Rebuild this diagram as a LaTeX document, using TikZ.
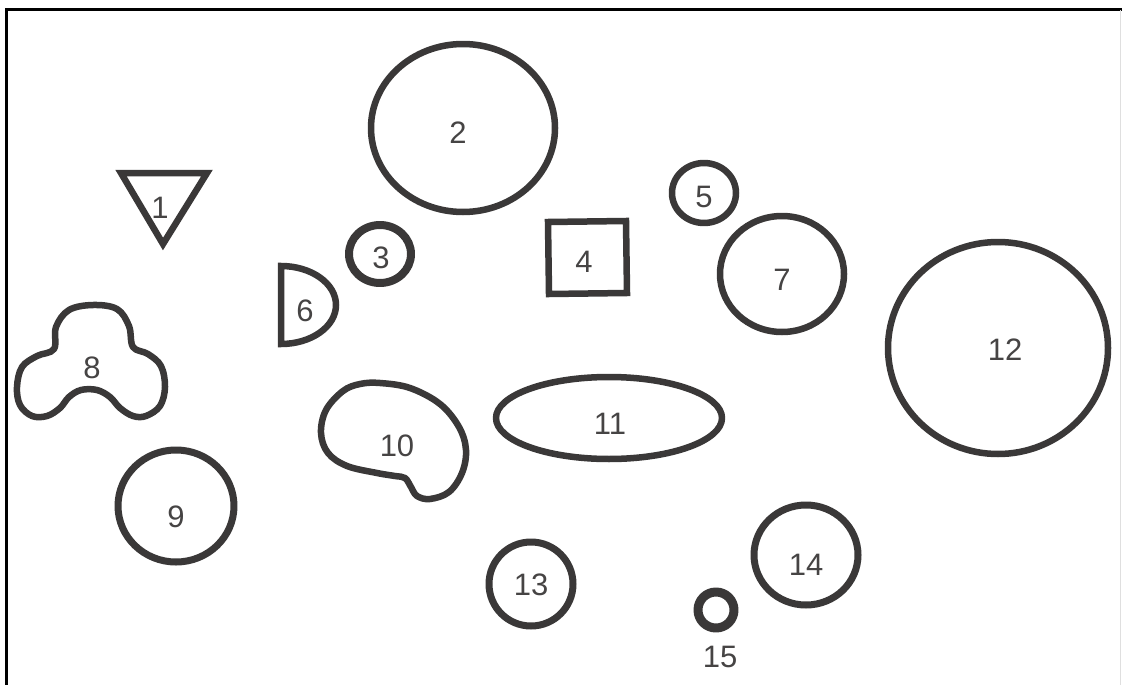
\documentclass[tikz,border=0pt]{standalone}
\usepackage{fontspec}
\setmainfont{Liberation Sans}
\definecolor{ink}{RGB}{58,56,56}
\definecolor{txt}{RGB}{70,68,68}
\begin{document}
\begin{tikzpicture}[x=1pt,y=-1pt,
  shp/.style={draw=ink,line width=6.5pt,line join=round},
  lbl/.style={text=txt,font=\fontsize{31}{34}\selectfont,inner sep=0pt}]
\useasboundingbox (0,0) rectangle (1122,685);
\fill[white] (0,0) rectangle (1122,685);
% frame
\draw[black,line width=3pt] (6,685) -- (6,10) -- (1122,10);
\draw[gray!25,line width=1pt] (1120,10) -- (1120,685);
% 1 triangle
\draw[shp,line join=miter] (121,173) -- (207,173) -- (163,244) -- cycle;
\node[lbl] (l1) at (160,208) {1};
% 2
\draw[shp] (463,128) ellipse [x radius=92pt, y radius=84pt];
\node[lbl] (l2) at (458,133) {2};
% 3
\draw[shp,line width=8pt] (380,254) ellipse [x radius=31pt, y radius=29pt];
\node[lbl] (l3) at (381,258) {3};
% 4
\draw[shp,line join=miter] (548,222) -- (626,221) -- (627,293) -- (549,294) -- cycle;
\node[lbl] (l4) at (584,262) {4};
% 5
\draw[shp] (704,193) ellipse [x radius=32pt, y radius=30pt];
\node[lbl] (l5) at (704,197) {5};
% 6
\draw[shp,line join=miter] (281,266) arc[start angle=90, end angle=-90, x radius=55pt, y radius=39pt] -- cycle;
\node[lbl] (l6) at (305,311) {6};
% 7
\draw[shp] (782,274) ellipse [x radius=62pt, y radius=58pt];
\node[lbl] (l7) at (782,280) {7};
% 8
\draw[shp] plot[smooth cycle, tension=0.6] coordinates {
 (93,305) (117,309) (129,326) (133,347) (148,354) (161,366) (165,387)
 (160,406) (146,416) (133,416) (120,408) (110,397) (97,390) (81,390)
 (69,397) (60,408) (47,416) (32,416) (20,405) (17,387) (22,367)
 (37,356) (54,349) (56,327) (69,310)};
\node[lbl] (l8) at (92,368) {8};
% 9
\draw[shp,line width=7pt] (176,506) ellipse [x radius=58pt, y radius=56pt];
\node[lbl] (l9) at (176,517) {9};
% 10
\draw[shp] plot[smooth cycle, tension=0.6] coordinates {
 (380,383) (410,388) (440,404) (459,427) (466,450) (462,473) (449,492)
 (430,499) (417,496) (411,487) (405,478) (395,476) (377,473) (347,466)
 (328,453) (321,433) (326,410) (343,391) (360,384)};
\node[lbl] (l10) at (397,446) {10};
% 11
\draw[shp] (609,418) ellipse [x radius=113pt, y radius=41pt];
\node[lbl] (l11) at (610,424) {11};
% 12
\draw[shp] (998,348) ellipse [x radius=110pt, y radius=106pt];
\node[lbl] (l12) at (1005,350) {12};
% 13
\draw[shp,line width=7pt] (531,584) ellipse [x radius=42pt, y radius=42pt];
\node[lbl] (l13) at (531,585) {13};
% 14
\draw[shp,line width=7pt] (806,555) ellipse [x radius=52pt, y radius=50pt];
\node[lbl] (l14) at (806,565) {14};
% 15
\draw[shp,line width=9pt] (716,610) circle[radius=18pt];
\node[lbl] (l15) at (720,657) {15};
\end{tikzpicture}
\end{document}
